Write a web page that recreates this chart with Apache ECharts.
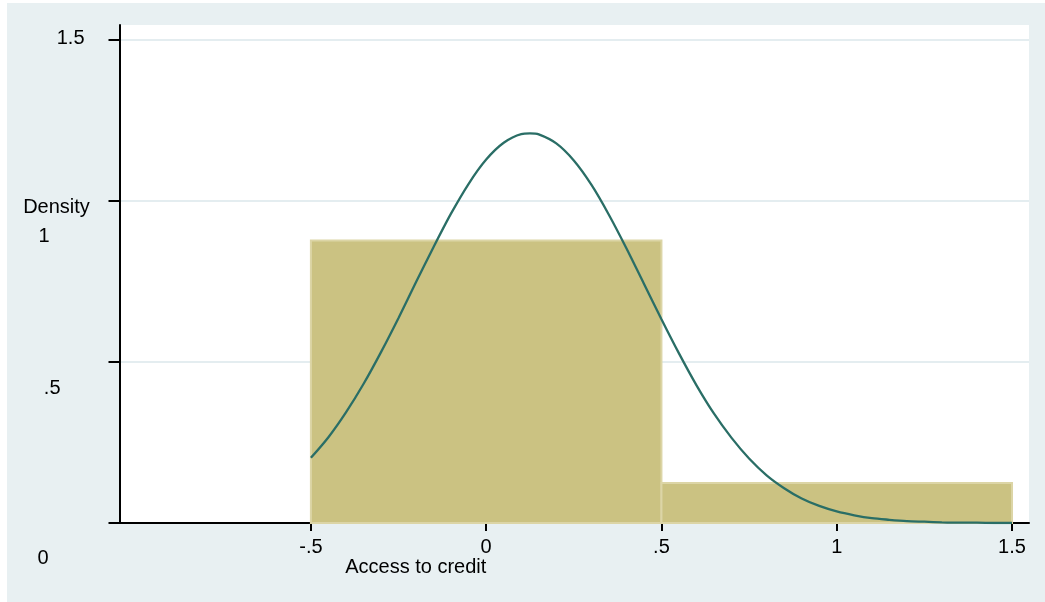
<!DOCTYPE html>
<html>
<head>
<meta charset="utf-8">
<script src="https://cdn.jsdelivr.net/npm/echarts@6/dist/echarts.min.js"></script>
<style>
  html, body { margin: 0; padding: 0; background: #ffffff; }
  #frame { position: absolute; left: 0; top: 0; width: 1045px; height: 602px; background: #ffffff; }
  #chart { position: absolute; left: 7px; top: 3px; width: 1038px; height: 599px; background: #e8f0f2; }
</style>
</head>
<body>
<div id="frame"><div id="chart"></div></div>
<script>
// Histogram bins of "Access to credit" (density scale)
const binStarts = [-0.5, 0.5];
const binEnds = [0.5, 1.5];
const binDensity = [0.876, 0.124];

// Overlaid normal density curve
const curveX = [-0.50, -0.45, -0.40, -0.35, -0.30, -0.25, -0.20, -0.15, -0.10, -0.05,
                 0.00, 0.05, 0.10, 0.125, 0.15, 0.20, 0.25, 0.30, 0.35, 0.40, 0.45,
                 0.50, 0.55, 0.60, 0.65, 0.70, 0.75, 0.80, 0.85, 0.90, 0.95,
                 1.00, 1.05, 1.10, 1.15, 1.20, 1.25, 1.30, 1.35, 1.40, 1.45, 1.50];
const curveY = [0.202, 0.266, 0.343, 0.431, 0.530, 0.636, 0.747, 0.856, 0.960, 1.052,
                1.127, 1.179, 1.206, 1.208, 1.205, 1.177, 1.124, 1.049, 0.956, 0.852, 0.742,
                0.632, 0.526, 0.427, 0.339, 0.264, 0.200, 0.148, 0.108, 0.076, 0.053,
                0.036, 0.024, 0.015, 0.010, 0.006, 0.004, 0.002, 0.001, 0.001, 0.000, 0.000];

// Axis ticks and their printed labels
const xTickValues = [-0.5, 0, 0.5, 1, 1.5];
const xTickLabels = ['-.5', '0', '.5', '1', '1.5'];
const yTickValues = [0, 0.5, 1, 1.5];
const yTickLabels = ['0', '.5', '1', '1.5'];
const yLabelStyles = ['t0', 't05', 't1', 't15'];

const FONT = "'Liberation Sans', Arial, Helvetica, sans-serif";
const INK = '#000000';

function findIdx(list, v) {
  return list.findIndex(function (t) { return Math.abs(t - v) < 1e-9; });
}

const chart = echarts.init(document.getElementById('chart'), null, { renderer: 'canvas' });

const labelBase = { fontSize: 20, color: INK, fontFamily: FONT };

const option = {
  animation: false,
  backgroundColor: 'transparent',
  textStyle: { fontFamily: FONT },
  grid: {
    left: 112.5, right: 16, top: 22, bottom: 79,
    show: true, backgroundColor: '#ffffff', borderWidth: 0,
    containLabel: false
  },
  xAxis: {
    type: 'value',
    min: -1.046,
    max: 1.5485,
    name: 'Access to credit',
    nameLocation: 'middle',
    nameGap: 44,
    nameMoveOverlap: false,
    nameTextStyle: {
      fontSize: 20, color: INK, fontFamily: FONT,
      align: 'center', verticalAlign: 'middle',
      padding: [0, 317, 0, 0]
    },
    axisLine: { show: true, onZero: false, lineStyle: { color: INK, width: 2 } },
    axisTick: {
      show: true, inside: false, length: 8,
      customValues: xTickValues,
      lineStyle: { color: INK, width: 2 }
    },
    axisLabel: {
      show: true, margin: 14,
      customValues: xTickValues,
      fontSize: 20, color: INK, fontFamily: FONT,
      formatter: function (v) {
        const i = findIdx(xTickValues, v);
        return i >= 0 ? xTickLabels[i] : '';
      }
    },
    splitLine: { show: false }
  },
  yAxis: {
    type: 'value',
    min: 0,
    max: 1.5443,
    name: '{d|Density}',
    nameLocation: 'middle',
    nameRotate: 0,
    nameGap: 63,
    nameMoveOverlap: false,
    nameTextStyle: {
      fontSize: 20, color: INK, fontFamily: FONT,
      align: 'center', verticalAlign: 'middle',
      rich: {
        d: { fontSize: 20, color: INK, fontFamily: FONT, padding: [0, 0, 134, 0] }
      }
    },
    axisLine: { show: true, onZero: false, lineStyle: { color: INK, width: 2 } },
    axisTick: {
      show: true, inside: false, length: 11,
      customValues: yTickValues,
      lineStyle: { color: INK, width: 2 }
    },
    axisLabel: {
      show: true, margin: 35,
      showMinLabel: true, showMaxLabel: true,
      customValues: yTickValues,
      formatter: function (v) {
        const i = findIdx(yTickValues, v);
        return i >= 0 ? '{' + yLabelStyles[i] + '|' + yTickLabels[i] + '}' : '';
      },
      rich: {
        t0: Object.assign({ padding: [70, 36, 0, 0] }, labelBase),
        t05: Object.assign({ padding: [53, 24, 0, 0] }, labelBase),
        t1: Object.assign({ padding: [71, 35, 0, 0] }, labelBase),
        t15: Object.assign({ padding: [0, 0, 2, 0] }, labelBase)
      }
    },
    splitLine: { show: true, lineStyle: { color: '#e4edf0', width: 2 } }
  },
  series: [
    {
      type: 'custom',
      name: 'bins',
      z: 2,
      encode: { x: [0, 1], y: 2 },
      data: binStarts.map(function (s, i) { return [s, binEnds[i], binDensity[i]]; }),
      renderItem: function (params, api) {
        const p0 = api.coord([api.value(0), 0]);
        const p1 = api.coord([api.value(1), api.value(2)]);
        return {
          type: 'rect',
          shape: { x: p0[0], y: p1[1], width: p1[0] - p0[0], height: p0[1] - p1[1] },
          style: { fill: '#cbc282', stroke: '#dcd5a6', lineWidth: 2 }
        };
      }
    },
    {
      type: 'line',
      name: 'normal density',
      z: 3,
      smooth: 0.3,
      showSymbol: false,
      symbol: 'none',
      lineStyle: { color: '#2a6e66', width: 2.3 },
      data: curveX.map(function (x, i) { return [x, curveY[i]]; })
    }
  ]
};

chart.setOption(option);
</script>
</body>
</html>
